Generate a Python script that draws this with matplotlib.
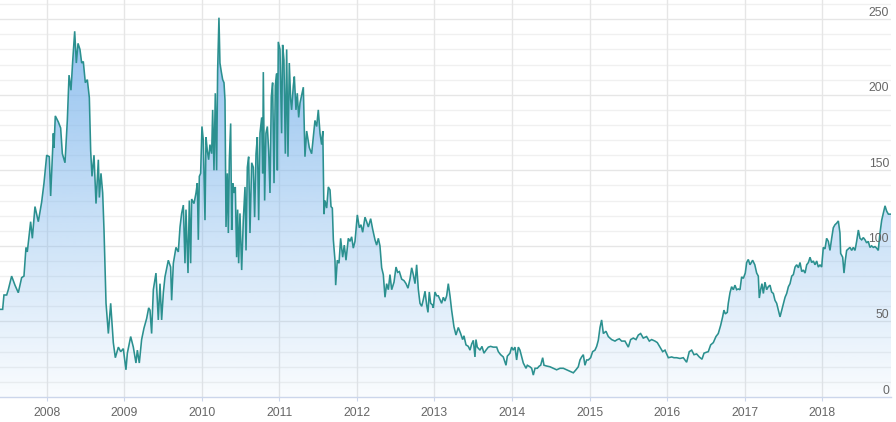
import numpy as np
import matplotlib
matplotlib.use("Agg")
import matplotlib.pyplot as plt
import matplotlib.transforms as mtransforms
from matplotlib.colors import to_rgb

plt.rcParams['font.family'] = ['Liberation Sans', 'DejaVu Sans']

# decimal year, price
years = [
    2007.398, 2007.432, 2007.449, 2007.484, 2007.505, 2007.548, 2007.591, 2007.634, 2007.677, 2007.707,
    2007.733, 2007.750, 2007.793, 2007.815, 2007.849, 2007.892, 2007.935, 2007.965, 2008.000, 2008.034,
    2008.051, 2008.086, 2008.094, 2008.111, 2008.150, 2008.180, 2008.202, 2008.236, 2008.266, 2008.288,
    2008.313, 2008.335, 2008.361, 2008.382, 2008.404, 2008.429, 2008.451, 2008.472, 2008.498, 2008.524,
    2008.550, 2008.567, 2008.584, 2008.610, 2008.636, 2008.666, 2008.679, 2008.700, 2008.722, 2008.739,
    2008.765, 2008.795, 2008.825, 2008.859, 2008.885, 2008.924, 2008.954, 2008.988, 2009.022, 2009.040,
    2009.083, 2009.117, 2009.151, 2009.169, 2009.194, 2009.224, 2009.254, 2009.289, 2009.315,
    2009.332, 2009.353, 2009.375, 2009.409, 2009.439, 2009.461, 2009.482, 2009.504, 2009.525, 2009.568,
    2009.598, 2009.611, 2009.633, 2009.667, 2009.697, 2009.719, 2009.740, 2009.762, 2009.783, 2009.796,
    2009.822, 2009.839, 2009.856, 2009.869, 2009.899, 2009.925, 2009.942, 2009.955, 2009.968, 2009.985,
    2010.002, 2010.019, 2010.041, 2010.054, 2010.071, 2010.088, 2010.105, 2010.127, 2010.140, 2010.157,
    2010.174, 2010.191, 2010.204, 2010.221, 2010.234, 2010.252, 2010.269, 2010.286, 2010.299, 2010.312,
    2010.329, 2010.342, 2010.355, 2010.372, 2010.385, 2010.398, 2010.415, 2010.432, 2010.449, 2010.462,
    2010.475, 2010.492, 2010.514, 2010.535, 2010.557, 2010.570, 2010.587, 2010.604, 2010.621, 2010.643,
    2010.664, 2010.681, 2010.699, 2010.716, 2010.733, 2010.750, 2010.772, 2010.785, 2010.793, 2010.810,
    2010.827, 2010.845, 2010.862, 2010.879, 2010.896, 2010.913, 2010.931, 2010.948, 2010.965, 2010.974,
    2010.986, 2011.008, 2011.029, 2011.042, 2011.059, 2011.077, 2011.094, 2011.111, 2011.128, 2011.146,
    2011.158, 2011.180, 2011.193, 2011.214, 2011.231, 2011.249, 2011.266, 2011.309, 2011.330, 2011.352,
    2011.386, 2011.416, 2011.459, 2011.481, 2011.502, 2011.524, 2011.545, 2011.560, 2011.575, 2011.588,
    2011.610, 2011.631, 2011.653, 2011.666, 2011.683, 2011.696, 2011.717, 2011.726, 2011.747, 2011.769,
    2011.790, 2011.816, 2011.837, 2011.859, 2011.889, 2011.911, 2011.932, 2011.953, 2011.975, 2012.005,
    2012.031, 2012.052, 2012.074, 2012.104, 2012.125, 2012.147, 2012.177, 2012.203, 2012.233, 2012.254,
    2012.276, 2012.297, 2012.319, 2012.340, 2012.362, 2012.383, 2012.405, 2012.426, 2012.448, 2012.478,
    2012.504, 2012.525, 2012.547, 2012.577, 2012.607, 2012.633, 2012.658, 2012.684, 2012.706, 2012.727,
    2012.749, 2012.770, 2012.792, 2012.813, 2012.835, 2012.856, 2012.878, 2012.899, 2012.916, 2012.933,
    2012.951, 2012.972, 2012.985, 2013.006, 2013.028, 2013.049, 2013.071, 2013.092, 2013.114, 2013.135,
    2013.157, 2013.178, 2013.200, 2013.221, 2013.251, 2013.277, 2013.307, 2013.337, 2013.363, 2013.380,
    2013.406, 2013.436, 2013.458, 2013.479, 2013.501, 2013.522, 2013.535, 2013.552, 2013.587, 2013.612,
    2013.638, 2013.664, 2013.694, 2013.724, 2013.758, 2013.802, 2013.823, 2013.853, 2013.887, 2013.922,
    2013.939, 2013.973, 2013.995, 2014.016, 2014.038, 2014.059, 2014.081, 2014.102, 2014.124, 2014.145,
    2014.180, 2014.197, 2014.231, 2014.253, 2014.274, 2014.296, 2014.326, 2014.352, 2014.369, 2014.395,
    2014.412, 2014.446, 2014.489, 2014.532, 2014.575, 2014.618, 2014.661, 2014.704, 2014.747, 2014.790,
    2014.824, 2014.854, 2014.876, 2014.897, 2014.919, 2014.940, 2014.962, 2014.983, 2015.013, 2015.039,
    2015.069, 2015.091, 2015.112, 2015.134, 2015.155, 2015.177, 2015.211, 2015.241, 2015.284, 2015.327,
    2015.357, 2015.383, 2015.413, 2015.456, 2015.499, 2015.529, 2015.563, 2015.598, 2015.628, 2015.658,
    2015.692, 2015.735, 2015.770, 2015.800, 2015.843, 2015.873, 2015.907, 2015.942, 2015.972, 2016.015,
    2016.058, 2016.088, 2016.122, 2016.165, 2016.208, 2016.251, 2016.285, 2016.316, 2016.346, 2016.380,
    2016.414, 2016.449, 2016.475, 2016.500, 2016.530, 2016.561, 2016.595, 2016.629, 2016.659, 2016.690,
    2016.715, 2016.732, 2016.750, 2016.775, 2016.788, 2016.810, 2016.831, 2016.853, 2016.874, 2016.896,
    2016.917, 2016.939, 2016.960, 2016.982, 2017.007, 2017.025, 2017.046, 2017.068, 2017.102, 2017.130,
    2017.154, 2017.175, 2017.188, 2017.205, 2017.222, 2017.240, 2017.261, 2017.283, 2017.304, 2017.326,
    2017.347, 2017.369, 2017.390, 2017.412, 2017.434, 2017.455, 2017.477, 2017.498, 2017.520, 2017.541,
    2017.563, 2017.584, 2017.606, 2017.627, 2017.649, 2017.670, 2017.692, 2017.713, 2017.735, 2017.756,
    2017.778, 2017.799, 2017.821, 2017.842, 2017.863, 2017.885, 2017.906, 2017.928, 2017.949, 2017.971,
    2017.992, 2018.013, 2018.035, 2018.056, 2018.078, 2018.099, 2018.121, 2018.142, 2018.164, 2018.185,
    2018.207, 2018.228, 2018.237, 2018.263, 2018.280, 2018.297, 2018.314, 2018.336, 2018.357, 2018.379,
    2018.400, 2018.422, 2018.443, 2018.465, 2018.486, 2018.508, 2018.529, 2018.551, 2018.572, 2018.593,
    2018.615, 2018.636, 2018.658, 2018.679, 2018.701, 2018.722, 2018.744, 2018.766, 2018.787, 2018.809,
    2018.830, 2018.852, 2018.886,
]

values = [
    58, 58, 67.5, 67.5, 71, 80, 74, 69, 79, 80,
    99, 96, 116, 105, 126, 116, 129, 141.5, 160, 159,
    133, 174.5, 165, 186, 182, 178, 161, 155, 183, 213,
    203, 222, 242, 221, 234, 230, 221, 222, 208, 210,
    198, 163, 146, 160, 128, 157, 132, 148, 135, 110.5,
    62, 42, 62, 36, 26, 33, 30, 32, 18, 29,
    40, 33, 22.5, 31, 22.5, 38, 45.5, 52, 59,
    57.5, 42, 71, 82, 51, 75, 51, 69, 79.5, 90.5,
    86, 64, 88.5, 99, 96, 112.5, 121.5, 127, 88.5, 124,
    82, 130, 88.5, 131, 128, 135, 141.5, 104, 146, 148,
    179, 170, 117, 172, 163, 157, 167, 161, 190, 150,
    201, 150, 216, 251, 221, 215, 210, 208, 196.5, 112.5,
    148, 108.5, 157, 181, 110.5, 141.5, 135, 139, 92.5, 124,
    88.5, 121.5, 84, 117, 139, 97, 152, 159, 108.5, 155,
    152, 119, 161, 172, 117, 174.5, 185, 148, 215, 130,
    174.5, 179, 163, 135, 198.5, 208, 141.5, 206, 214, 150,
    235, 230, 174.5, 233, 223, 161, 230, 159, 221, 196.5,
    190, 206, 212, 190, 201, 185, 194.5, 205, 159, 176,
    165, 161, 183, 179, 190, 174.5, 167, 176, 121, 130,
    125, 139, 137, 126, 125, 104, 90.5, 74, 90.5, 88.5,
    105, 92.5, 100.5, 90.5, 105, 103, 106, 98.5, 103, 120.5,
    112, 114, 109, 119, 116, 112.5, 118, 111, 104, 100.5,
    105, 100, 85.5, 81, 66, 75, 71, 81, 71, 76,
    86, 82.5, 83, 78, 77, 75, 72, 78, 85.5, 81,
    75, 87.5, 71, 62, 60, 64.5, 70, 61, 56, 69.5,
    62, 61, 59, 69.5, 67, 67, 64.5, 62, 66, 63.5,
    67, 75, 67, 57.5, 46.5, 41, 46, 42, 38, 40.5,
    34.5, 33.5, 31, 35, 37.5, 26.5, 38, 33, 31, 33.5,
    29, 31, 33, 33.5, 33, 33, 30, 28, 26.5, 21,
    27, 29, 33, 31, 33, 24.5, 33, 31, 26.5, 22.5,
    19, 21, 20, 19, 14.5, 19, 19, 20.5, 21, 26,
    21, 20.5, 20, 19, 18, 19, 19, 18, 17, 16,
    18, 20, 24.5, 26.5, 28, 21, 24.5, 24.5, 26, 30,
    31, 33.5, 37.5, 46, 51, 42, 43.5, 40, 38, 37,
    38, 38.5, 37, 37, 33, 38, 39, 38, 41, 42,
    39, 40, 37, 38, 37, 36, 33, 30, 31, 26,
    26.5, 26, 26, 25.5, 26, 23, 30, 31, 28, 28.5,
    26.5, 25, 29, 29.5, 30, 34.5, 36, 40, 42, 47.5,
    53, 57.5, 55, 56, 62, 69, 73, 71, 74, 71,
    71.5, 71, 79.5, 78.5, 82, 89, 91, 87.5, 90.5, 87.5,
    82, 80, 65.5, 71, 75, 68.5, 76, 71, 73, 74,
    69.5, 68.5, 64, 62, 57.5, 53, 57.5, 62, 66, 68.5,
    73, 75, 80, 81, 86, 87.5, 85.5, 89, 83, 84,
    82, 87.5, 89, 92.5, 89, 90, 87.5, 90, 86, 87.5,
    86, 99, 98, 105, 103, 97, 105, 112, 114, 115,
    116.5, 108.5, 95, 92.5, 82, 90.5, 97, 98, 99, 97,
    99, 97, 103, 110.5, 105, 104, 105.5, 104, 102, 103,
    99, 100, 99, 99.5, 98.5, 97, 108.5, 117, 121.5, 126.5,
    123, 121, 121,
]

year_ticks = list(range(2008, 2019))
y_ticks = [0, 50, 100, 150, 200, 250]

x = np.array(years)
y = np.array(values)

fig = plt.figure(figsize=(8.96, 4.22), dpi=100)
ax = fig.add_axes([0, 25 / 422, 891 / 896, 397 / 422])
xmin, xmax = x[0], x[-1]
ymax = 262.7
ax.set_xlim(xmin, xmax)
ax.set_ylim(0, ymax)

# grid
for v in np.arange(10, 270, 10):
    c = '#e6e6e6' if v % 50 == 0 else '#f0f0f0'
    ax.axhline(v, color=c, lw=1, zorder=0)
for yr in year_ticks:
    ax.axvline(yr, color='#e6e6e6', lw=1, zorder=0)

# gradient fill under the line
base = np.array(to_rgb('#7cb5ec'))
n = 256
alpha = np.linspace(0.04, 0.88, n)
grad = np.zeros((n, 1, 4))
grad[:, 0, :3] = base
grad[:, 0, 3] = alpha
poly = ax.fill_between(x, y, 0, facecolor='none', edgecolor='none')
im = ax.imshow(grad, extent=[xmin, xmax, 0, ymax], origin='lower',
               aspect='auto', zorder=1, interpolation='bilinear')
im.set_clip_path(poly.get_paths()[0], transform=ax.transData)

ax.plot(x, y, color='#2b908f', lw=1.15, zorder=3, solid_joinstyle='miter')

# axes styling
for s in ['top', 'right', 'left']:
    ax.spines[s].set_visible(False)
ax.spines['bottom'].set_color('#ccd6eb')
ax.spines['bottom'].set_linewidth(1)
ax.set_xticks(year_ticks)
ax.set_xticklabels([str(t) for t in year_ticks])
ax.tick_params(axis='x', length=3, color='#ccd6eb', labelsize=8.7,
               labelcolor='#666666', pad=4)
ax.set_yticks([])

off = mtransforms.ScaledTranslation(-2 / 100, 0.5 / 100, fig.dpi_scale_trans)
trans = mtransforms.blended_transform_factory(ax.transAxes, ax.transData) + off
for t in y_ticks:
    ax.text(1.0, t, str(t), transform=trans, ha='right', va='bottom',
            fontsize=8.7, color='#666666', zorder=4)

fig.savefig('out.png', dpi=100)
